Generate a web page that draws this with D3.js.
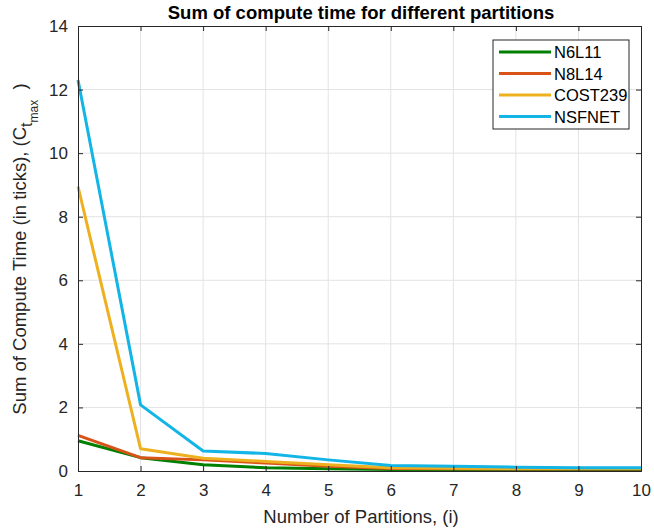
<!DOCTYPE html>
<html><head><meta charset="utf-8">
<script src="https://cdn.jsdelivr.net/npm/d3@7"></script>
<style>body{margin:0;background:#fff}svg{font-family:"Liberation Sans",Arial,sans-serif}</style>
</head><body>
<svg id="c" width="654" height="531"></svg>
<script>
const partitions = [1,2,3,4,5,6,7,8,9,10];
const seriesNames = ["N6L11","N8L14","COST239","NSFNET"];
const n6l11   = [0.95,0.42,0.20,0.10,0.07,0.05,0.05,0.05,0.05,0.05];
const n8l14   = [1.12,0.42,0.35,0.25,0.15,0.08,0.07,0.06,0.06,0.06];
const cost239 = [8.95,0.70,0.40,0.30,0.20,0.10,0.09,0.08,0.08,0.08];
const nsfnet  = [12.3,2.08,0.63,0.55,0.35,0.17,0.15,0.12,0.10,0.10];
const colors = ["#008000","#d95319","#edb120","#12b5e6"];
const yTicks = [0,2,4,6,8,10,12,14];
const xTicks = [1,2,3,4,5,6,7,8,9,10];
const allSeries = [n6l11,n8l14,cost239,nsfnet];

const svg = d3.select("#c");
const L=78, R=641, T=26, B=471;
const x = d3.scaleLinear().domain([1,10]).range([L,R]);
const y = d3.scaleLinear().domain([0,14]).range([B,T]);
const axisCol="#262626";

// grid
const g = svg.append("g");
g.selectAll(".gx").data(xTicks.slice(1,-1)).enter().append("line")
 .attr("x1",d=>x(d)).attr("x2",d=>x(d)).attr("y1",T).attr("y2",B)
 .attr("stroke","#e3e3e3").attr("stroke-width",1);
g.selectAll(".gy").data(yTicks.slice(1,-1)).enter().append("line")
 .attr("y1",d=>y(d)).attr("y2",d=>y(d)).attr("x1",L).attr("x2",R)
 .attr("stroke","#e3e3e3").attr("stroke-width",1);

// lines
const line = d3.line().x((d,i)=>x(partitions[i])).y(d=>y(d));
allSeries.forEach((s,k)=>{
  svg.append("path").datum(s).attr("d",line).attr("fill","none")
   .attr("stroke",colors[k]).attr("stroke-width",3).attr("stroke-linejoin","round");
});

// axes
const ax = svg.append("g").attr("transform",`translate(0,${B})`)
 .call(d3.axisBottom(x).tickValues(xTicks).tickSize(-5).tickPadding(13).tickFormat(d3.format("d")));
const ay = svg.append("g").attr("transform",`translate(${L},0)`)
 .call(d3.axisLeft(y).tickValues(yTicks).tickSize(-5).tickPadding(10).tickFormat(d3.format("d")));
const axTop = svg.append("g").attr("transform",`translate(0,${T})`)
 .call(d3.axisTop(x).tickValues(xTicks).tickSize(-5).tickFormat(""));
const ayR = svg.append("g").attr("transform",`translate(${R},0)`)
 .call(d3.axisRight(y).tickValues(yTicks).tickSize(-5).tickFormat(""));
[ax,ay,axTop,ayR].forEach(a=>{
  a.select(".domain").attr("stroke",axisCol).attr("stroke-width",1);
  a.selectAll(".tick line").attr("stroke",axisCol);
  a.selectAll(".tick text").attr("fill",axisCol).style("font-size","17px");
});

// title
svg.append("text").attr("x",361).attr("y",19).attr("text-anchor","middle")
 .style("font-size","18.5px").style("font-weight","bold").attr("fill","#000")
 .text("Sum of compute time for different partitions");
// x label
svg.append("text").attr("x",361).attr("y",523).attr("text-anchor","middle")
 .style("font-size","18.5px").attr("fill",axisCol).text("Number of Partitions, (i)");
// y label
const yl = svg.append("text").attr("transform","translate(26,249) rotate(-90)")
 .attr("text-anchor","middle").style("font-size","18.5px").attr("fill",axisCol);
yl.append("tspan").text("Sum of Compute Time (in ticks), (C");
yl.append("tspan").attr("dy",6).style("font-size","16px").text("t");
yl.append("tspan").attr("dy",6).style("font-size","12px").text("max");
yl.append("tspan").attr("dy",-12).text("\u00a0\u00a0)");

// legend
const lg = svg.append("g");
lg.append("rect").attr("x",493).attr("y",40).attr("width",136).attr("height",89)
 .attr("fill","#fff").attr("stroke",axisCol).attr("stroke-width",1);
seriesNames.forEach((n,k)=>{
  const yy = 52 + k*21.5;
  lg.append("line").attr("x1",499).attr("x2",551).attr("y1",yy).attr("y2",yy)
   .attr("stroke",colors[k]).attr("stroke-width",3);
  lg.append("text").attr("x",554).attr("y",yy+6).style("font-size","16.5px").attr("fill","#000").text(n);
});
</script>
</body></html>
